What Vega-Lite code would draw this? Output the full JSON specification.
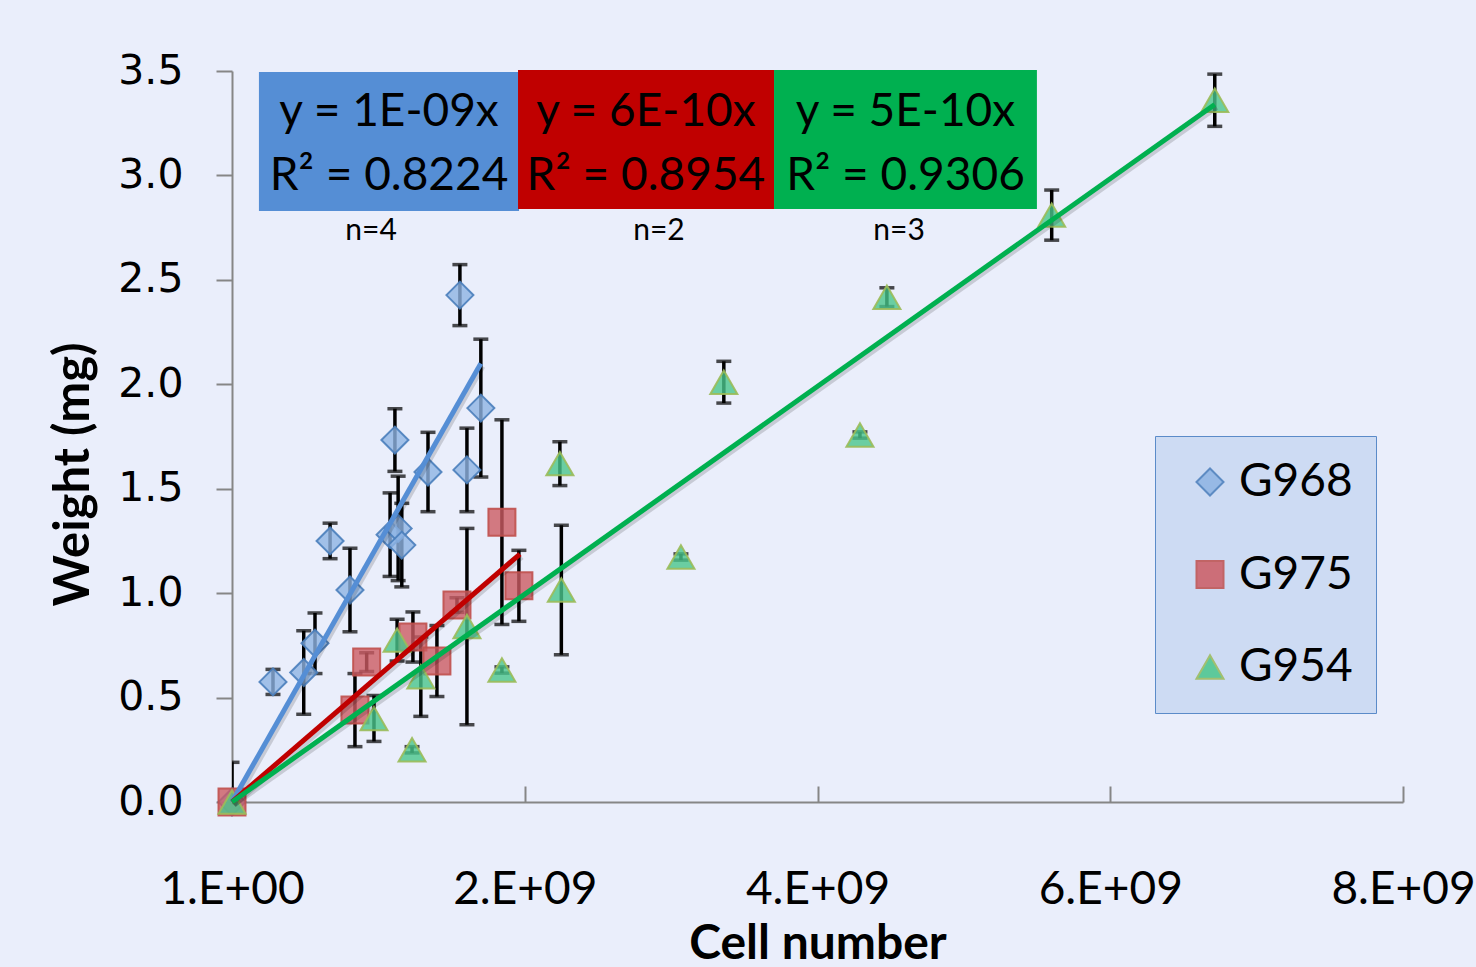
{
  "$schema": "https://vega.github.io/schema/vega-lite/v6.json",
  "width": 1171,
  "height": 731,
  "autosize": {"type": "none"},
  "padding": {"left": 232, "top": 71, "right": 73, "bottom": 165},
  "background": "#EAEEFB",
  "config": {
    "view": {"stroke": null},
    "axis": {"domainColor": "#868686", "domainWidth": 2, "tickColor": "#868686", "tickWidth": 2, "grid": false, "labelColor": "#000000", "titleColor": "#000000"},
    "legend": {
      "orient": "none", "legendX": 923, "legendY": 365, "padding": 23, "symbolOffset": 9, "labelOffset": 6,
      "labelFont": "Lato", "labelFontSize": 46, "labelColor": "#000000", "rowPadding": 46.5, "symbolSize": 729, "symbolStrokeWidth": 2,
      "fillColor": "#CDDBF3", "strokeColor": "#5B8BC9", "symbolOpacity": 0.85
    }
  },
  "datasets": {
    "points": [
      {"series": "G968", "x": 0, "y": 0, "err": 0.19},
      {"series": "G968", "x": 280000000, "y": 0.575, "err": 0.06},
      {"series": "G968", "x": 490000000, "y": 0.62, "err": 0.2},
      {"series": "G968", "x": 567000000, "y": 0.76, "err": 0.145},
      {"series": "G968", "x": 670000000, "y": 1.25, "err": 0.085},
      {"series": "G968", "x": 806000000, "y": 1.015, "err": 0.2},
      {"series": "G968", "x": 1113000000, "y": 1.733, "err": 0.15},
      {"series": "G968", "x": 1080000000, "y": 1.28, "err": 0.2},
      {"series": "G968", "x": 1135000000, "y": 1.31, "err": 0.25},
      {"series": "G968", "x": 1160000000, "y": 1.23, "err": 0.2},
      {"series": "G968", "x": 1339000000, "y": 1.58, "err": 0.19},
      {"series": "G968", "x": 1557000000, "y": 2.427, "err": 0.146},
      {"series": "G968", "x": 1605000000, "y": 1.59, "err": 0.2},
      {"series": "G968", "x": 1700000000, "y": 1.886, "err": 0.33},
      {"series": "G975", "x": 0, "y": 0, "err": 0},
      {"series": "G975", "x": 840000000, "y": 0.44, "err": 0.175},
      {"series": "G975", "x": 920000000, "y": 0.67, "err": 0.045},
      {"series": "G975", "x": 1236000000, "y": 0.79, "err": 0.12},
      {"series": "G975", "x": 1400000000, "y": 0.675, "err": 0.17},
      {"series": "G975", "x": 1537000000, "y": 0.943, "err": 0.035},
      {"series": "G975", "x": 1844000000, "y": 1.34, "err": 0.49},
      {"series": "G975", "x": 1960000000, "y": 1.035, "err": 0.17},
      {"series": "G954", "x": 0, "y": 0, "err": 0},
      {"series": "G954", "x": 970000000, "y": 0.40, "err": 0.11},
      {"series": "G954", "x": 1128000000, "y": 0.775, "err": 0.1},
      {"series": "G954", "x": 1230000000, "y": 0.25, "err": 0.015},
      {"series": "G954", "x": 1290000000, "y": 0.60, "err": 0.19},
      {"series": "G954", "x": 1605000000, "y": 0.84, "err": 0.47},
      {"series": "G954", "x": 1844000000, "y": 0.632, "err": 0.015},
      {"series": "G954", "x": 2240000000, "y": 1.62, "err": 0.105},
      {"series": "G954", "x": 2250000000, "y": 1.015, "err": 0.31},
      {"series": "G954", "x": 3067000000, "y": 1.173, "err": 0.015},
      {"series": "G954", "x": 3360000000, "y": 2.01, "err": 0.1},
      {"series": "G954", "x": 4290000000, "y": 1.757, "err": 0.015},
      {"series": "G954", "x": 4474000000, "y": 2.417, "err": 0.045},
      {"series": "G954", "x": 5600000000, "y": 2.81, "err": 0.12},
      {"series": "G954", "x": 6714000000, "y": 3.36, "err": 0.125}
    ],
    "trend": [
      {"series": "G968", "x": 0, "y": 0},
      {"series": "G968", "x": 1700000000, "y": 2.10},
      {"series": "G975", "x": 0, "y": 0},
      {"series": "G975", "x": 1967000000, "y": 1.187},
      {"series": "G954", "x": 0, "y": 0},
      {"series": "G954", "x": 6714000000, "y": 3.34}
    ],
    "boxes": [
      {"series": "G968", "x1": 184000000, "x2": 1961000000, "y1": 2.830, "y2": 3.495},
      {"series": "G975", "x1": 1954000000, "x2": 3703000000, "y1": 2.839, "y2": 3.505},
      {"series": "G954", "x1": 3703000000, "x2": 5499000000, "y1": 2.839, "y2": 3.505}
    ],
    "eq": [
      {"x": 1073000000, "y": 3.304, "label": "y = 1E-09x"},
      {"x": 1073000000, "y": 2.997, "label": "R² = 0.8224"},
      {"x": 2828000000, "y": 3.304, "label": "y = 6E-10x"},
      {"x": 2828000000, "y": 2.997, "label": "R² = 0.8954"},
      {"x": 4601000000, "y": 3.304, "label": "y = 5E-10x"},
      {"x": 4601000000, "y": 2.997, "label": "R² = 0.9306"}
    ],
    "ncount": [
      {"x": 950000000, "y": 2.734, "label": "n=4"},
      {"x": 2917000000, "y": 2.734, "label": "n=2"},
      {"x": 4557000000, "y": 2.734, "label": "n=3"}
    ]
  },
  "layer": [
    {
      "data": {"name": "points"},
      "transform": [{"filter": "datum.err > 0"}],
      "mark": {"type": "errorbar", "ticks": true, "thickness": 3.5, "size": 15, "color": "black", "clip": true},
      "encoding": {
        "x": {"field": "x", "type": "quantitative", "title": "Cell number", "scale": {"domain": [0, 8000000000], "nice": false},
          "axis": {"title": "Cell number", "values": [0, 2000000000, 4000000000, 6000000000, 8000000000],
            "labelExpr": "datum.value == 0 ? '1.E+00' : format(datum.value / 1000000000, 'd') + '.E+09'",
            "labelFont": "Lato", "labelFontSize": 46, "labelPadding": 81, "tickSize": -16, "labelFlush": false, "labelOverlap": false,
            "titleFont": "Lato", "titleFontSize": 48, "titleFontWeight": "bold", "titleY": 156, "titleBaseline": "alphabetic"}},
        "y": {"field": "y", "type": "quantitative", "title": "Weight (mg)", "scale": {"domain": [0, 3.5], "nice": false},
          "axis": {"title": "Weight (mg)", "values": [0, 0.5, 1, 1.5, 2, 2.5, 3, 3.5], "format": ".1f",
            "labelFont": "DejaVu Sans", "labelFontSize": 41, "tickSize": 16, "labelPadding": 33,
            "titleFont": "Lato", "titleFontSize": 49, "titleFontWeight": "bold", "titleAngle": 270, "titleX": -144, "titleY": 403,
            "titleAlign": "center", "titleBaseline": "alphabetic"}},
        "yError": {"field": "err"}
      }
    },
    {
      "data": {"name": "points"},
      "mark": {"type": "point", "filled": true, "size": 729, "strokeWidth": 2, "fillOpacity": 0.8, "strokeOpacity": 0.9},
      "encoding": {
        "x": {"field": "x", "type": "quantitative", "title": "Cell number"},
        "y": {"field": "y", "type": "quantitative", "title": "Weight (mg)"},
        "fill": {"field": "series", "type": "nominal", "scale": {"domain": ["G968", "G975", "G954"], "range": ["#8EB4E3", "#CC5B63", "#4AC68C"]}, "legend": {"title": null}},
        "stroke": {"field": "series", "type": "nominal", "scale": {"domain": ["G968", "G975", "G954"], "range": ["#4A7EBB", "#C0504D", "#9BBB59"]}, "legend": {"title": null}},
        "shape": {"field": "series", "type": "nominal", "scale": {"domain": ["G968", "G975", "G954"], "range": ["diamond", "square", "triangle-up"]}, "legend": {"title": null}}
      }
    },
    {
      "data": {"name": "trend"},
      "mark": {"type": "line", "color": "#000000", "opacity": 0.15, "strokeWidth": 5, "xOffset": 2, "yOffset": 3},
      "encoding": {
        "x": {"field": "x", "type": "quantitative", "title": "Cell number"},
        "y": {"field": "y", "type": "quantitative", "title": "Weight (mg)"},
        "detail": {"field": "series", "type": "nominal"}
      }
    },
    {
      "data": {"name": "trend"},
      "mark": {"type": "line", "strokeWidth": 5},
      "encoding": {
        "x": {"field": "x", "type": "quantitative", "title": "Cell number"},
        "y": {"field": "y", "type": "quantitative", "title": "Weight (mg)"},
        "color": {"field": "series", "type": "nominal", "scale": {"domain": ["G968", "G975", "G954"], "range": ["#558ED5", "#C00000", "#00B050"]}, "legend": null}
      }
    },
    {
      "data": {"name": "boxes"},
      "mark": {"type": "rect"},
      "encoding": {
        "x": {"field": "x1", "type": "quantitative", "title": "Cell number"},
        "x2": {"field": "x2"},
        "y": {"field": "y1", "type": "quantitative", "title": "Weight (mg)"},
        "y2": {"field": "y2"},
        "color": {"field": "series", "type": "nominal", "legend": null}
      }
    },
    {
      "data": {"name": "eq"},
      "mark": {"type": "text", "font": "Lato", "fontSize": 46, "color": "#000000", "align": "center", "baseline": "middle"},
      "encoding": {
        "x": {"field": "x", "type": "quantitative", "title": "Cell number"},
        "y": {"field": "y", "type": "quantitative", "title": "Weight (mg)"},
        "text": {"field": "label"}
      }
    },
    {
      "data": {"name": "ncount"},
      "mark": {"type": "text", "font": "Lato", "fontSize": 30, "color": "#000000", "align": "center", "baseline": "middle"},
      "encoding": {
        "x": {"field": "x", "type": "quantitative", "title": "Cell number"},
        "y": {"field": "y", "type": "quantitative", "title": "Weight (mg)"},
        "text": {"field": "label"}
      }
    }
  ]
}
